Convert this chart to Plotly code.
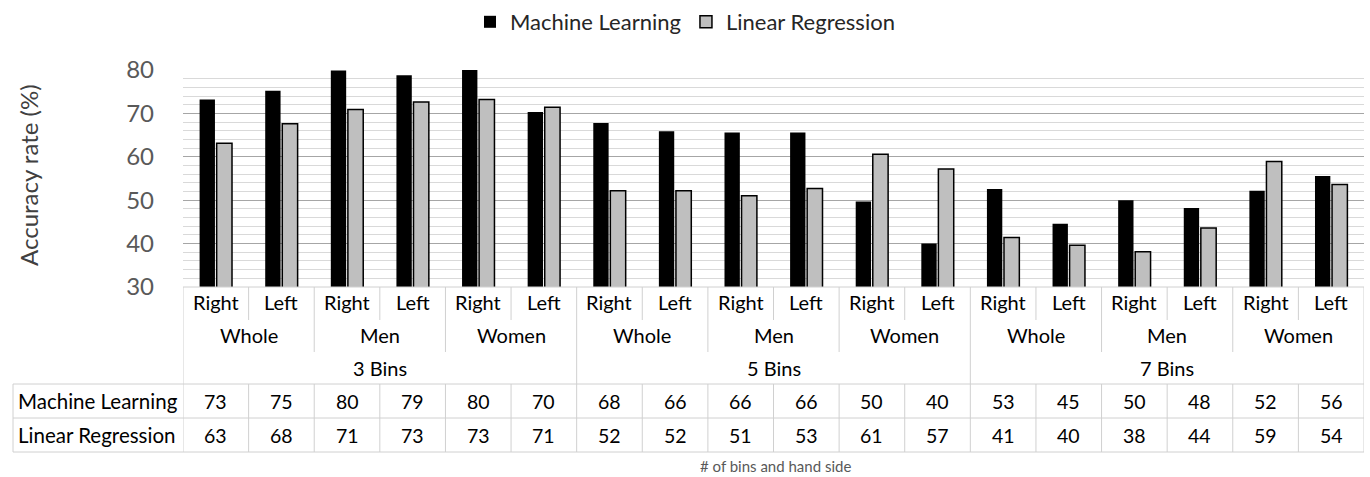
import plotly.graph_objects as go

# ---- data ----
bins = ["3 Bins", "5 Bins", "7 Bins"]
groups = ["Whole", "Men", "Women"]
sides = ["Right", "Left"]
ml = [73.2, 75.2, 79.9, 78.8, 80.0, 70.3,
      67.8, 65.9, 65.6, 65.6, 49.7, 40.0,
      52.6, 44.6, 50.0, 48.2, 52.2, 55.6]
lr = [63.1, 67.6, 70.9, 72.6, 73.2, 71.4,
      52.2, 52.2, 51.0, 52.7, 60.6, 57.2,
      41.4, 39.6, 38.1, 43.6, 58.9, 53.6]
series_names = ["Machine Learning", "Linear Regression"]

W, H = 1370, 477
L, R, T, B = 183, 6, 70, 190
PW = W - L - R
PH = H - T - B
FONT = "Lato"
GRID = "#d0d0d0"


def py(p):
    return (T + PH - p) / PH


def px(p):
    return (p - L) / PW


n = len(ml)
idx = list(range(n))

fig = go.Figure()
fig.add_bar(x=idx, y=ml, name=series_names[0],
            marker=dict(color="black", line=dict(width=0)))
fig.add_bar(x=idx, y=lr, name=series_names[1],
            marker=dict(color="#bfbfbf", line=dict(color="black", width=1.5)))

ann = []


def label(x, y, text, size, xref="x", xanchor="center", color="#000000",
          angle=0):
    ann.append(dict(x=x, y=y, xref=xref, yref="paper", text=text,
                    xanchor=xanchor, yanchor="middle", textangle=angle,
                    showarrow=False, font=dict(size=size, color=color)))


# level 1: sides
for i in idx:
    label(i, py(302), sides[i % 2], 20)
# level 2: groups
for j in range(len(bins) * len(groups)):
    label(2 * j + 0.5, py(335), groups[j % 3], 20)
# level 3: bins
for k, b in enumerate(bins):
    label(6 * k + 2.5, py(368), b, 20)
# data table
for r, (name, vals) in enumerate(zip(series_names, [ml, lr])):
    yy = py(401 + 34 * r)
    label(px(16), yy, name, 20.5, xref="paper", xanchor="left")
    for i, v in enumerate(vals):
        label(i, yy, f"{v:.0f}", 19.5)
# axis titles
label(px(775), py(466), "# of bins and hand side", 15, xref="paper",
      color="#595959")
label(px(28), py(175), "Accuracy rate (%)", 24, xref="paper",
      color="#404040", angle=-90)

shapes = []


def hline(y, x0, x1, xref):
    shapes.append(dict(type="line", xref=xref, yref="paper", x0=x0, x1=x1,
                       y0=py(y), y1=py(y), line=dict(color=GRID, width=1)))


def vline(x, y0, y1, xref="x"):
    shapes.append(dict(type="line", xref=xref, yref="paper", x0=x, x1=x,
                       y0=py(y0), y1=py(y1), line=dict(color=GRID, width=1)))


hline(287, -0.5, n - 0.5, "x")
for yv in (384, 418, 452):
    hline(yv, px(13), 1, "paper")
vline(px(13), 384, 452, "paper")
vline(-0.5, 287, 452)
vline(n - 0.5, 287, 452)
for i in range(n - 1):
    b = i + 0.5
    if (i + 1) % 6 == 0:
        vline(b, 287, 452)
    elif (i + 1) % 2 == 0:
        vline(b, 287, 352)
        vline(b, 384, 452)
    else:
        vline(b, 287, 320)
        vline(b, 384, 452)

fig.update_layout(
    width=W, height=H,
    margin=dict(l=L, r=R, t=T, b=B, pad=0, autoexpand=False),
    paper_bgcolor="white", plot_bgcolor="white",
    font=dict(family=FONT, color="#000000"),
    barmode="group", bargap=0.48, bargroupgap=0.1,
    showlegend=True,
    legend=dict(orientation="h", x=px(685), y=py(22), xanchor="center",
                yanchor="middle", font=dict(size=22, color="#262626"),
                bgcolor="rgba(0,0,0,0)"),
    xaxis=dict(range=[-0.5, n - 0.5], showticklabels=False, showgrid=False,
               zeroline=False, showline=False, fixedrange=True),
    yaxis=dict(range=[30, 80], dtick=10, tick0=30, showgrid=True,
               gridcolor="#a6a6a6", gridwidth=1, zeroline=False,
               showline=False, ticks="",
               tickfont=dict(size=24, color="#595959"),
               ticklabelstandoff=28,
               minor=dict(dtick=2, showgrid=True, gridcolor="#d9d9d9",
                          gridwidth=1)),
    annotations=ann, shapes=shapes,
)

fig.write_html("out.html", config={"displayModeBar": False},
               post_script="document.body.style.margin='0px';")
